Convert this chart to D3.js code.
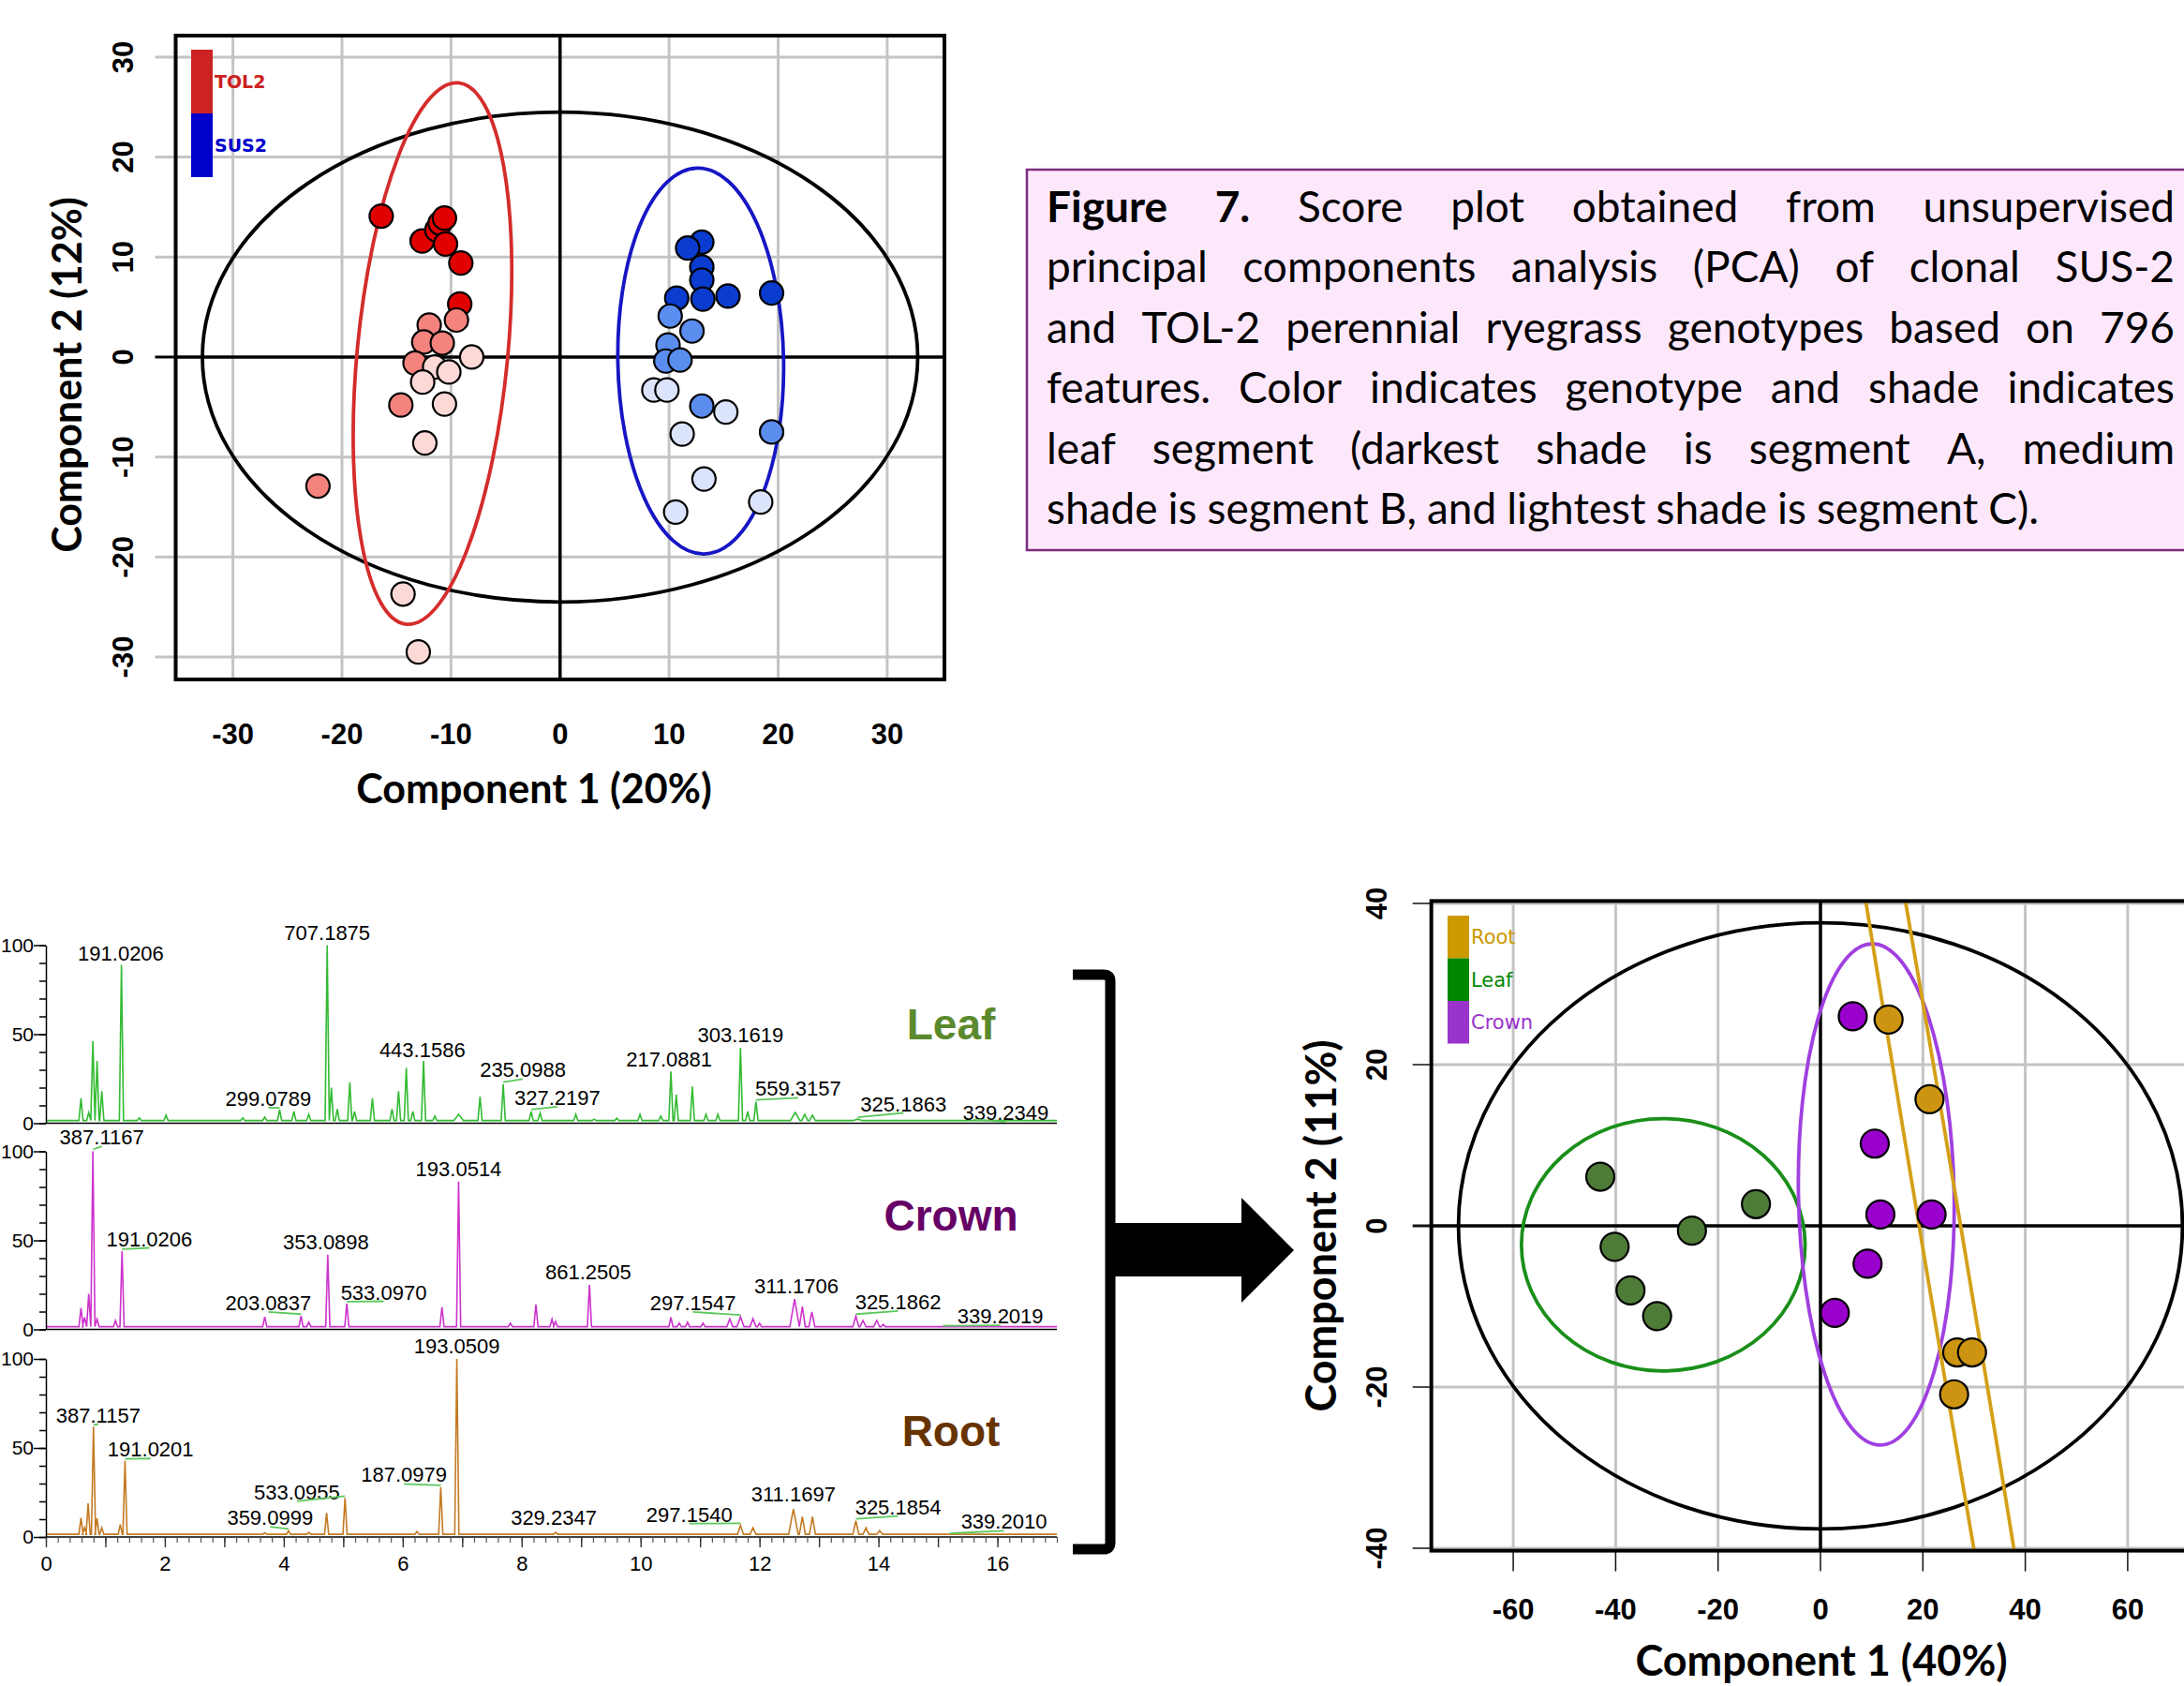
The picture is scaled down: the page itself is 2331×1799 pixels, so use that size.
<!DOCTYPE html>
<html>
<head>
<meta charset="utf-8">
<script src="https://cdn.jsdelivr.net/npm/d3@7"></script>
<style>
  body { margin: 0; background: #fff; }
  svg { display: block; }
</style>
</head>
<body>
<div id="wrapper"></div>
<script>
// ---------- data ----------
// PCA 1: genotype scores by leaf segment [component 1, component 2]
const tolSegA = [[-16.4, 14.1], [-12.65, 11.6], [-11.3, 12.7], [-11.0, 13.4], [-10.6, 13.9], [-10.5, 11.3], [-9.1, 9.4], [-9.2, 5.3]]
const tolSegB = [[-12.0, 3.2], [-9.5, 3.7], [-12.5, 1.5], [-10.8, 1.4], [-13.3, -0.6], [-14.6, -4.8], [-22.2, -12.9]]
const tolSegC = [[-8.1, 0], [-11.5, -1.0], [-10.2, -1.5], [-12.6, -2.5], [-10.6, -4.7], [-12.4, -8.6], [-14.4, -23.7], [-13.0, -29.5]]
const susSegA = [[13.0, 11.5], [11.7, 10.9], [13.0, 9.0], [13.0, 7.7], [10.7, 5.9], [13.1, 5.8], [15.4, 6.1], [19.4, 6.4]]
const susSegB = [[10.1, 4.1], [12.1, 2.6], [9.9, 1.2], [9.7, -0.4], [11.0, -0.3], [13.0, -4.9], [19.4, -7.5]]
const susSegC = [[8.6, -3.3], [9.8, -3.3], [15.2, -5.5], [11.2, -7.7], [13.2, -12.2], [10.6, -15.5], [18.4, -14.5]]
const genotypes = ['TOL2', 'SUS2']
// confidence ellipses: [centre x, centre y, half-width (x units), half-height (y units), tilt deg]
const genoEllipses = { all: [0, 0, 32.8, 24.5, 0], TOL2: [-11.7, 0.35, 6.9, 27.2, 5.5], SUS2: [12.9, -0.4, 7.6, 19.3, -1] }
const pca1Ticks = [-30, -20, -10, 0, 10, 20, 30]

// PCA 2: tissue scores
const tissues = ['Root', 'Leaf', 'Crown']
const leafScores = [[-43.0, 6.1], [-12.6, 2.7], [-25.1, -0.6], [-40.2, -2.6], [-37.1, -8.0], [-31.9, -11.2]]
const crownScores = [[6.3, 26.0], [10.6, 10.2], [11.7, 1.4], [21.7, 1.4], [9.2, -4.7], [2.8, -10.8]]
const rootScores = [[13.3, 25.6], [21.3, 15.7], [26.7, -15.7], [29.6, -15.7], [26.1, -20.9]]
const tissueEllipses = { all: [0, 0, 70.7, 37.6, 0], Leaf: [-30.7, -2.35, 27.7, 15.65, 0], Crown: [10.9, 3.9, 15.2, 31.1, -1], Root: [23.9, -2.2, 4.0, 140, -9.5] }
const pca2XTicks = [-60, -40, -20, 0, 20, 40, 60]
const pca2YTicks = [-40, -20, 0, 20, 40]

// chromatograms: peaks [retention time (min), relative intensity, optional half width]
const leafPeaks = [[0.59, 14], [0.72, 6], [0.79, 46], [0.86, 35], [0.94, 18], [1.27, 89], [1.57, 3], [2.02, 4.5], [3.31, 3], [3.68, 3.5], [3.93, 7.5], [4.17, 6.6], [4.42, 5], [4.73, 100], [4.80, 20], [4.90, 8], [5.11, 23], [5.19, 6.6], [5.49, 14], [5.82, 8], [5.93, 18], [6.06, 31], [6.17, 6.6], [6.35, 35], [6.54, 4], [6.94, 5, 0.08], [7.30, 15], [7.69, 22], [8.16, 6.6], [8.31, 5.8], [8.91, 5], [9.22, 2.3], [9.60, 2.8], [9.99, 5], [10.34, 4], [10.51, 29], [10.60, 16], [10.87, 20.6], [11.10, 5], [11.30, 5], [11.68, 42.4], [11.80, 6.6], [11.94, 12], [12.60, 6, 0.08], [12.76, 5, 0.05], [12.89, 4.5, 0.05], [13.65, 2.3, 0.08], [13.80, 1.5, 0.06]]
const crownPeaks = [[0.59, 12], [0.65, 6.7], [0.72, 20], [0.79, 100], [0.86, 5.8], [1.17, 5], [1.28, 44], [3.68, 7], [4.29, 7.5], [4.42, 4], [4.74, 42], [5.06, 14.5], [6.66, 12.5], [6.94, 83], [7.81, 3.5], [8.24, 14], [8.51, 5.8], [8.57, 4.4], [9.14, 25], [10.51, 6.7], [10.65, 3.5], [10.79, 4], [11.05, 3.5], [11.50, 5.8, 0.05], [11.68, 7, 0.06], [11.89, 6, 0.05], [12.00, 3.5], [12.59, 17, 0.08], [12.72, 12.8, 0.05], [12.88, 9.8, 0.05], [13.62, 7.5, 0.05], [13.74, 5, 0.05], [13.97, 5, 0.05], [14.08, 2.8]]
const rootPeaks = [[0.59, 10.8], [0.65, 5.2], [0.71, 18.9], [0.80, 62], [0.86, 10.5], [0.94, 5.2], [1.25, 7], [1.33, 42.8], [3.68, 2.4], [4.08, 3.5], [4.42, 2.6], [4.72, 13.5], [5.03, 21.9], [6.24, 3.1], [6.64, 28], [6.91, 100], [8.57, 2.6], [11.68, 6.6, 0.05], [11.89, 5.2, 0.05], [12.57, 15.7, 0.08], [12.72, 11.4, 0.05], [12.89, 11.4, 0.05], [13.62, 9.1, 0.05], [13.79, 5.2, 0.05], [14.02, 3.5, 0.05]]
// peak labels: [m/z, peak time, peak intensity, label time, label intensity, leader line]
const leafLabels = [['191.0206', 1.27, 89, 1.26, 95.5, 0], ['707.1875', 4.73, 100, 4.73, 107, 0], ['299.0789', 3.93, 7.5, 3.74, 14, 1], ['443.1586', 6.35, 35, 6.33, 41.5, 0], ['235.0988', 7.69, 22, 8.02, 30, 1], ['327.2197', 8.16, 6.6, 8.6, 14.5, 1], ['217.0881', 10.51, 29, 10.48, 36, 0], ['303.1619', 11.68, 42.4, 11.68, 49.5, 0], ['559.3157', 11.94, 12, 12.65, 19.5, 1], ['325.1863', 13.65, 2.3, 14.42, 11, 1], ['339.2349', 15.6, 1, 16.14, 6, 1]]
const crownLabels = [['387.1167', 0.79, 100, 0.94, 108, 1], ['191.0206', 1.28, 44, 1.74, 51, 1], ['203.0837', 4.29, 7.5, 3.74, 15, 1], ['353.0898', 4.74, 42, 4.71, 49, 0], ['533.0970', 5.06, 14.5, 5.68, 21, 1], ['193.0514', 6.94, 83, 6.94, 90, 0], ['861.2505', 9.14, 25, 9.12, 32.5, 0], ['297.1547', 11.68, 7, 10.88, 15, 1], ['311.1706', 12.59, 17, 12.62, 24.5, 0], ['325.1862', 13.62, 7.5, 14.33, 15.5, 1], ['339.2019', 15.08, 1, 16.05, 7.5, 1]]
const rootLabels = [['387.1157', 0.8, 62, 0.88, 68.5, 1], ['191.0201', 1.33, 42.8, 1.76, 49.3, 1], ['359.0999', 4.08, 3.5, 3.77, 11, 1], ['533.0955', 5.03, 21.9, 4.22, 25.3, 1], ['187.0979', 6.64, 28, 6.02, 35, 1], ['193.0509', 6.91, 100, 6.91, 107.5, 0], ['329.2347', 8.57, 2.6, 8.54, 11, 0], ['297.1540', 11.68, 6.6, 10.82, 12.8, 1], ['311.1697', 12.57, 15.7, 12.57, 24, 0], ['325.1854', 13.62, 9.1, 14.33, 17, 1], ['339.2010', 15.2, 1, 16.11, 8.7, 1]]
const chromTissues = ['Leaf', 'Crown', 'Root']
const baselineLevel = 1.5
const timeTicks = [0, 2, 4, 6, 8, 10, 12, 14, 16]
const intensityTicks = [0, 50, 100]

const captionLines = [
  'Figure 7. Score plot obtained from unsupervised',
  'principal components analysis (PCA) of clonal SUS-2',
  'and TOL-2 perennial ryegrass genotypes based on 796',
  'features. Color indicates genotype and shade indicates',
  'leaf segment (darkest shade is segment A, medium',
  'shade is segment B, and lightest shade is segment C).',
]

// ---------- styles ----------
const segColors = {
  TOL2: ['#e00000', '#f4837e', '#fcd9d6'],
  SUS2: ['#0a3ccf', '#5b8def', '#dce4fc'],
}
const genoColors = { all: '#000', TOL2: '#d42c2c', SUS2: '#1616c4' }
const genoLegend = { TOL2: '#cc2222', SUS2: '#0000cc' }
const tissueFill = { Leaf: '#4e7c38', Crown: '#9900cc', Root: '#cc9410' }
const tissueStroke = { all: '#000', Leaf: '#1a8f1a', Crown: '#a040e0', Root: '#d4a017' }
const tissueLegend = { Root: '#cc9900', Leaf: '#008800', Crown: '#9933cc' }
const traceColor = { Leaf: '#33bb33', Crown: '#cc33cc', Root: '#c47a22' }
const tissueTitle = { Leaf: '#5b8a2e', Crown: '#660066', Root: '#663300' }
const gridColor = '#c4c4c4'
const titleFont = 'Lato, "Open Sans", sans-serif'
const tickFont = '"Liberation Sans", Arial, sans-serif'

const W = 2331
const H = 1799
const svg = d3.select('#wrapper').append('svg').attr('width', W).attr('height', H)
svg.append('rect').attr('width', W).attr('height', H).attr('fill', '#fff')

// ---------- PCA helper ----------
function drawPca(o) {
  const { x, y } = o
  const [x0, x1] = x.range()
  const [y0, y1] = y.range() // y0 bottom, y1 top
  const g = svg.append('g')
  g.append('clipPath').attr('id', o.id).append('rect')
    .attr('x', x0).attr('y', y1).attr('width', x1 - x0).attr('height', y0 - y1)

  // grid + tick extensions
  o.xTicks.filter((d) => d !== 0).forEach((d) => {
    g.append('line').attr('x1', x(d)).attr('x2', x(d)).attr('y1', y1).attr('y2', y0)
      .attr('stroke', gridColor).attr('stroke-width', 3)
  })
  o.yTicks.filter((d) => d !== 0).forEach((d) => {
    g.append('line').attr('x1', x0).attr('x2', x1).attr('y1', y(d)).attr('y2', y(d))
      .attr('stroke', gridColor).attr('stroke-width', 3)
  })
  o.yTicks.forEach((d) => {
    g.append('line').attr('x1', x0 - o.yTickLen).attr('x2', x0).attr('y1', y(d)).attr('y2', y(d))
      .attr('stroke', o.tickColor(d)).attr('stroke-width', d === 0 ? 3 : o.tickWidth)
  })
  if (o.xTickLen) {
    o.xTicks.forEach((d) => {
      g.append('line').attr('x1', x(d)).attr('x2', x(d)).attr('y1', y0).attr('y2', y0 + o.xTickLen)
        .attr('stroke', '#111').attr('stroke-width', 1.5)
    })
  }
  // zero lines
  g.append('line').attr('x1', x0).attr('x2', x1).attr('y1', y(0)).attr('y2', y(0)).attr('stroke', '#000').attr('stroke-width', 3.5)
  g.append('line').attr('x1', x(0)).attr('x2', x(0)).attr('y1', y1).attr('y2', y0).attr('stroke', '#000').attr('stroke-width', 3.5)

  // ellipses
  const eg = g.append('g').attr('clip-path', `url(#${o.id})`)
  Object.entries(o.ellipses).forEach(([key, [cx, cy, rx, ry, ang]]) => {
    eg.append('ellipse')
      .attr('rx', Math.abs(x(cx + rx) - x(cx)))
      .attr('ry', Math.abs(y(cy + ry) - y(cy)))
      .attr('transform', `translate(${x(cx)},${y(cy)}) rotate(${ang})`)
      .attr('fill', 'none').attr('stroke', o.ellipseColor[key]).attr('stroke-width', 3.8)
  })

  // points
  o.groups.forEach((grp) => {
    g.append('g').selectAll('circle').data(grp.values).join('circle')
      .attr('cx', (d) => x(d[0])).attr('cy', (d) => y(d[1])).attr('r', o.r)
      .attr('fill', grp.color).attr('stroke', '#000').attr('stroke-width', 2.2)
  })

  // frame
  g.append('rect').attr('x', x0).attr('y', y1).attr('width', x1 - x0).attr('height', y0 - y1)
    .attr('fill', 'none').attr('stroke', '#000').attr('stroke-width', 4)

  // legend bars
  o.legend.forEach((l, i) => {
    g.append('rect').attr('x', o.legendX).attr('y', o.legendY + i * o.legendH)
      .attr('width', o.legendW).attr('height', o.legendH).attr('fill', l.color)
    g.append('text').attr('x', o.legendX + o.legendW + 2).attr('y', o.legendY + (i + 0.5) * o.legendH)
      .attr('dy', '0.36em').attr('fill', l.color)
      .style('font', `${o.legendWeight} ${o.legendSize}px "DejaVu Sans", sans-serif`).text(l.name)
  })

  // tick labels
  const tf = `bold ${o.tickSize}px ${tickFont}`
  o.xTicks.forEach((d) => {
    g.append('text').attr('x', x(d)).attr('y', o.xLabelY).attr('text-anchor', 'middle')
      .attr('dy', '0.36em').style('font', tf).text(d)
  })
  o.yTicks.forEach((d) => {
    g.append('text').attr('transform', `translate(${o.yLabelX},${y(d)}) rotate(-90)`)
      .attr('text-anchor', 'middle').attr('dy', '0.36em').style('font', tf).text(d)
  })
  // axis titles
  g.append('text').attr('x', o.xTitle[1]).attr('y', o.xTitle[2]).attr('text-anchor', 'middle')
    .style('font', `700 ${o.titleSize}px ${titleFont}`).text(o.xTitle[0])
  g.append('text').attr('transform', `translate(${o.yTitle[1]},${o.yTitle[2]}) rotate(-90)`)
    .attr('text-anchor', 'middle').attr('dy', '0.36em')
    .style('font', `700 ${o.titleSize}px ${titleFont}`).text(o.yTitle[0])
}

// ---------- PCA 1 (genotypes) ----------
const xPca1 = d3.scaleLinear().domain([-35.25, 35.25]).range([187.5, 1008])
const yPca1 = d3.scaleLinear().domain([-32.25, 32.15]).range([725, 38])
drawPca({
  id: 'clip-pca1', x: xPca1, y: yPca1, xTicks: pca1Ticks, yTicks: pca1Ticks,
  yTickLen: 22, xTickLen: 0, tickWidth: 3, tickColor: (d) => (d === 0 ? '#000' : gridColor),
  ellipses: genoEllipses, ellipseColor: genoColors, r: 12.5,
  groups: [
    { values: tolSegA, color: segColors.TOL2[0] }, { values: tolSegB, color: segColors.TOL2[1] }, { values: tolSegC, color: segColors.TOL2[2] },
    { values: susSegA, color: segColors.SUS2[0] }, { values: susSegB, color: segColors.SUS2[1] }, { values: susSegC, color: segColors.SUS2[2] },
  ],
  legend: genotypes.map((g) => ({ name: g, color: genoLegend[g] })),
  legendX: 204, legendY: 53, legendW: 23, legendH: 68, legendSize: 19, legendWeight: 'bold',
  tickSize: 31, xLabelY: 783, yLabelX: 131,
  titleSize: 43, xTitle: ['Component 1 (20%)', 570, 857], yTitle: ['Component 2 (12%)', 72, 400],
})

// ---------- PCA 2 (tissues) ----------
const xPca2 = d3.scaleLinear().domain([-76, 76]).range([1943 - 76 * 5.465, 1943 + 76 * 5.465])
const yPca2 = d3.scaleLinear().domain([-40.3, 40.3]).range([1654.6, 961.4])
drawPca({
  id: 'clip-pca2', x: xPca2, y: yPca2, xTicks: pca2XTicks, yTicks: pca2YTicks,
  yTickLen: 20, xTickLen: 22, tickWidth: 1.5, tickColor: () => '#111',
  ellipses: tissueEllipses, ellipseColor: tissueStroke, r: 15,
  groups: [
    { values: leafScores, color: tissueFill.Leaf }, { values: crownScores, color: tissueFill.Crown }, { values: rootScores, color: tissueFill.Root },
  ],
  legend: tissues.map((t) => ({ name: t, color: tissueLegend[t] })),
  legendX: 1545, legendY: 977, legendW: 23, legendH: 45.5, legendSize: 21, legendWeight: 'normal',
  tickSize: 31, xLabelY: 1717, yLabelX: 1469,
  titleSize: 45, xTitle: ['Component 1 (40%)', 1944, 1788], yTitle: ['Component 2 (11%)', 1410, 1308],
})

// ---------- caption ----------
const cap = svg.append('g')
cap.append('rect').attr('x', 1096).attr('y', 181).attr('width', 1250).attr('height', 406)
  .attr('fill', '#fde8fb').attr('stroke', '#7d2c7d').attr('stroke-width', 2.5)
const capLeft = 1117
const capRight = 2321
const capSize = 46
const capText = cap.append('g')
const lastLine = capText.append('text').style('font', `${capSize}px ${titleFont}`).text(captionLines[captionLines.length - 1])
const sx = Math.min(1, 1141 / lastLine.node().getComputedTextLength())
lastLine.remove()
capText.attr('transform', `translate(${capLeft},0) scale(${sx},1)`)
const capWidth = (capRight - capLeft) / sx
captionLines.forEach((line, i) => {
  const words = line.split(' ')
  const nodes = words.map((w, j) =>
    capText.append('text').attr('y', 237 + i * 64.4)
      .style('font', `${i === 0 && j < 2 ? 700 : 400} ${capSize}px ${titleFont}`).text(w))
  const widths = nodes.map((n) => n.node().getComputedTextLength())
  const gap = i < captionLines.length - 1 ? (capWidth - d3.sum(widths)) / (words.length - 1) : capSize * 0.24
  let cx = 0
  nodes.forEach((n, j) => { n.attr('x', cx); cx += widths[j] + gap })
})

// ---------- chromatograms ----------
const xTime = d3.scaleLinear().domain([0, 17]).range([49, 1128])
const panelZero = [1198.5, 1418.5, 1640]
const peaksBy = { Leaf: leafPeaks, Crown: crownPeaks, Root: rootPeaks }
const labelsBy = { Leaf: leafLabels, Crown: crownLabels, Root: rootLabels }

chromTissues.forEach((tissue, i) => {
  const yInt = d3.scaleLinear().domain([0, 100]).range([panelZero[i], panelZero[i] - 190])
  const g = svg.append('g')

  // trace built from the peak list
  const pts = [[0, baselineLevel]]
  peaksBy[tissue].slice().sort((a, b) => a[0] - b[0]).forEach(([t, h, w = 0.035]) => {
    pts.push([t - w, baselineLevel], [t, h], [t + w, baselineLevel])
  })
  pts.push([17, baselineLevel])
  const line = d3.line().x((d) => xTime(d[0])).y((d) => yInt(d[1]))
  g.append('path').attr('d', line(pts)).attr('fill', 'none')
    .attr('stroke', traceColor[tissue]).attr('stroke-width', 1.6)

  // y axis
  g.append('g').attr('transform', `translate(${xTime(0)},0)`)
    .call(d3.axisLeft(yInt).tickValues(d3.range(0, 101, 10)).tickSize(7).tickSizeOuter(0).tickFormat(''))
    .call((a) => a.selectAll('line, path').attr('stroke', '#000').attr('stroke-width', 1.5))
  g.append('g').attr('transform', `translate(${xTime(0)},0)`)
    .call(d3.axisLeft(yInt).tickValues(intensityTicks).tickSize(13).tickPadding(0))
    .call((a) => a.select('.domain').remove())
    .call((a) => a.selectAll('line').attr('stroke', '#000').attr('stroke-width', 1.5))
    .call((a) => a.selectAll('text').style('font', `21px ${tickFont}`).attr('fill', '#000'))

  // x axis line
  g.append('line').attr('x1', xTime(0)).attr('x2', xTime(17)).attr('y1', yInt(0)).attr('y2', yInt(0))
    .attr('stroke', '#000').attr('stroke-width', 1.6)
  if (i === chromTissues.length - 1) {
    g.append('g').attr('transform', `translate(0,${yInt(0)})`)
      .call(d3.axisBottom(xTime).tickValues(d3.range(0, 17.01, 0.2)).tickSize(6).tickSizeOuter(0).tickFormat(''))
      .call((a) => a.select('.domain').remove())
      .call((a) => a.selectAll('line').attr('stroke', '#555').attr('stroke-width', 1.2))
    g.append('g').attr('transform', `translate(0,${yInt(0)})`)
      .call(d3.axisBottom(xTime).tickValues(d3.range(0, 17, 1)).tickSize(11).tickFormat(''))
      .call((a) => a.select('.domain').remove())
      .call((a) => a.selectAll('line').attr('stroke', '#333').attr('stroke-width', 1.4))
    g.append('g').attr('transform', `translate(0,${yInt(0)})`)
      .call(d3.axisBottom(xTime).tickValues(timeTicks).tickSize(0).tickPadding(20))
      .call((a) => a.select('.domain').remove())
      .call((a) => a.selectAll('text').style('font', `22px ${tickFont}`).attr('fill', '#000'))
  }

  // peak labels with leader lines
  labelsBy[tissue].forEach(([mz, pt, pi, lt, li, lead]) => {
    const txt = g.append('text').attr('x', xTime(lt)).attr('y', yInt(li)).attr('dy', '0.36em')
      .attr('text-anchor', 'middle').style('font', `22px ${tickFont}`).attr('fill', '#000').text(mz)
    if (lead) {
      const bb = txt.node().getBBox()
      g.append('line').attr('x1', xTime(pt)).attr('y1', yInt(pi) - 2)
        .attr('x2', xTime(lt)).attr('y2', bb.y + bb.height - 3)
        .attr('stroke', '#5cc85c').attr('stroke-width', 1.8)
    }
  })

  // tissue title
  g.append('text').attr('x', 1015).attr('y', [1109, 1313, 1543][i]).attr('text-anchor', 'middle')
    .style('font', `bold 46px ${tickFont}`).attr('fill', tissueTitle[tissue]).text(tissue)
})

// ---------- bracket and arrow ----------
const link = svg.append('g')
link.append('path')
  .attr('d', 'M1145,1040 L1178,1040 Q1185,1040 1185,1047 L1185,1646 Q1185,1653 1178,1653 L1145,1653')
  .attr('fill', 'none').attr('stroke', '#000').attr('stroke-width', 11)
link.append('path')
  .attr('d', 'M1185,1305 L1325,1305 L1325,1278 L1381,1334 L1325,1390 L1325,1362 L1185,1362 Z')
  .attr('fill', '#000')
</script>
</body>
</html>
